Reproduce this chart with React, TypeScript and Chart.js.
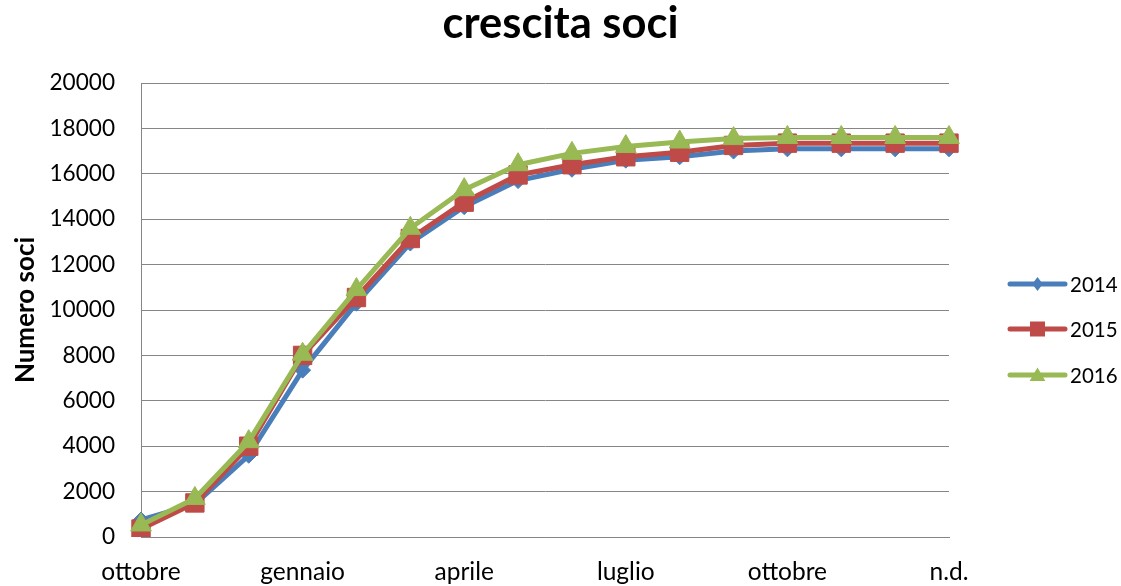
import React, { useEffect, useRef } from 'react';
import { Chart, registerables } from 'chart.js';

Chart.register(...registerables);

const months: string[] = [
  'ottobre', 'novembre', 'dicembre', 'gennaio', 'febbraio', 'marzo', 'aprile', 'maggio',
  'giugno', 'luglio', 'agosto', 'settembre', 'ottobre', 'novembre', 'dicembre', 'n.d.',
];
const seriesNames: string[] = ['2014', '2015', '2016'];
const soci2014: number[] = [750, 1450, 3600, 7350, 10300, 12950, 14550, 15700, 16200, 16600, 16750, 17000, 17100, 17100, 17100, 17100];
const soci2015: number[] = [350, 1500, 4000, 8000, 10550, 13150, 14750, 15950, 16400, 16750, 16950, 17250, 17350, 17350, 17350, 17350];
const soci2016: number[] = [530, 1700, 4200, 8050, 10900, 13600, 15300, 16400, 16900, 17200, 17400, 17550, 17600, 17600, 17600, 17600];
const seriesColors: string[] = ['#4A7EBB', '#BE4B48', '#98B954'];
const seriesMarkers: string[] = ['rectRot', 'rect', 'triangle'];
const markerRadius: number[] = [8, 13, 12];
const yMin = 0;
const yMax = 20000;
const yStep = 2000;

const FONT = 'Lato, "Open Sans", "Liberation Sans", sans-serif';

function drawMarker(ctx: CanvasRenderingContext2D, style: string, x: number, y: number, size: number) {
  ctx.beginPath();
  if (style === 'rectRot') {
    ctx.moveTo(x, y - size);
    ctx.lineTo(x + size * 0.75, y);
    ctx.lineTo(x, y + size);
    ctx.lineTo(x - size * 0.75, y);
  } else if (style === 'rect') {
    ctx.rect(x - size, y - size, size * 2, size * 2);
  } else {
    ctx.moveTo(x, y - size);
    ctx.lineTo(x + size * 1.05, y + size * 0.8);
    ctx.lineTo(x - size * 1.05, y + size * 0.8);
  }
  ctx.closePath();
  ctx.fill();
}

const legendPlugin = {
  id: 'excelLegend',
  afterDraw(chart: any) {
    const ctx: CanvasRenderingContext2D = chart.ctx;
    const x0 = 1010;
    const x1 = 1065;
    const ys = [284, 329, 375];
    const sizes = [7, 7.5, 7.5];
    ctx.save();
    seriesNames.forEach((name, i) => {
      const y = ys[i];
      ctx.strokeStyle = seriesColors[i];
      ctx.fillStyle = seriesColors[i];
      ctx.lineWidth = 5;
      ctx.lineCap = 'round';
      ctx.beginPath();
      ctx.moveTo(x0, y);
      ctx.lineTo(x1, y);
      ctx.stroke();
      drawMarker(ctx, seriesMarkers[i], (x0 + x1) / 2, y, sizes[i]);
      ctx.fillStyle = '#000';
      ctx.font = `20.5px ${FONT}`;
      ctx.textAlign = 'left';
      ctx.textBaseline = 'middle';
      ctx.fillText(name, 1070, y + 1);
    });
    ctx.restore();
  },
};

export default function App() {
  const canvasRef = useRef<HTMLCanvasElement | null>(null);

  useEffect(() => {
    if (!canvasRef.current) return;
    const values = [soci2014, soci2015, soci2016];
    const chart = new Chart(canvasRef.current, {
      type: 'line',
      data: {
        labels: months,
        datasets: seriesNames.map((name, i) => ({
          label: name,
          data: values[i],
          borderColor: seriesColors[i],
          backgroundColor: seriesColors[i],
          borderWidth: 5,
          borderJoinStyle: 'round' as const,
          borderCapStyle: 'round' as const,
          tension: 0,
          pointStyle: seriesMarkers[i] as any,
          pointRadius: markerRadius[i],
          pointBorderWidth: 1,
          pointBorderColor: seriesColors[i],
          pointBackgroundColor: seriesColors[i],
          order: 3 - i,
        })),
      },
      options: {
        responsive: false,
        animation: false,
        layout: { padding: 0 },
        plugins: {
          legend: { display: false },
          tooltip: { enabled: false },
          title: {
            display: true,
            text: 'crescita soci',
            color: '#000',
            font: { family: FONT, size: 43.5, weight: 'bold', lineHeight: 1 },
            padding: { top: 2, bottom: 37.5 },
          },
        },
        scales: {
          x: {
            offset: false,
            grid: { display: false, drawTicks: false },
            border: { display: true, color: '#868686', width: 1 },
            ticks: {
              autoSkip: false,
              maxRotation: 0,
              padding: 20,
              color: '#000',
              font: { family: FONT, size: 24.5 },
              callback: (_v: any, idx: number) => (idx % 3 === 0 ? months[idx] : ''),
            },
            afterFit: (s: any) => { s.height = 49; },
          },
          y: {
            min: yMin,
            max: yMax,
            grid: { color: '#868686', lineWidth: 1, drawTicks: false },
            border: { display: true, color: '#868686', width: 1 },
            ticks: {
              stepSize: yStep,
              padding: 26,
              color: '#000',
              font: { family: FONT, size: 22.6 },
              callback: (v: any) => String(v),
            },
            title: {
              display: true,
              text: 'Numero soci',
              color: '#000',
              font: { family: FONT, size: 26, weight: 'bold', lineHeight: 1.2 },
              padding: { top: 10, bottom: 0 },
            },
            afterFit: (s: any) => { s.width = 141; },
          },
          legendSpace: {
            type: 'linear',
            position: 'right',
            display: true,
            grid: { display: false, drawTicks: false },
            border: { display: false },
            ticks: { display: false },
            afterFit: (s: any) => { s.width = 172; },
          },
        },
      },
      plugins: [legendPlugin],
    });
    return () => chart.destroy();
  }, []);

  return (
    <canvas
      ref={canvasRef}
      width={1121}
      height={586}
      style={{ position: 'absolute', left: 0, top: 0, display: 'block', background: '#fff' }}
    />
  );
}
